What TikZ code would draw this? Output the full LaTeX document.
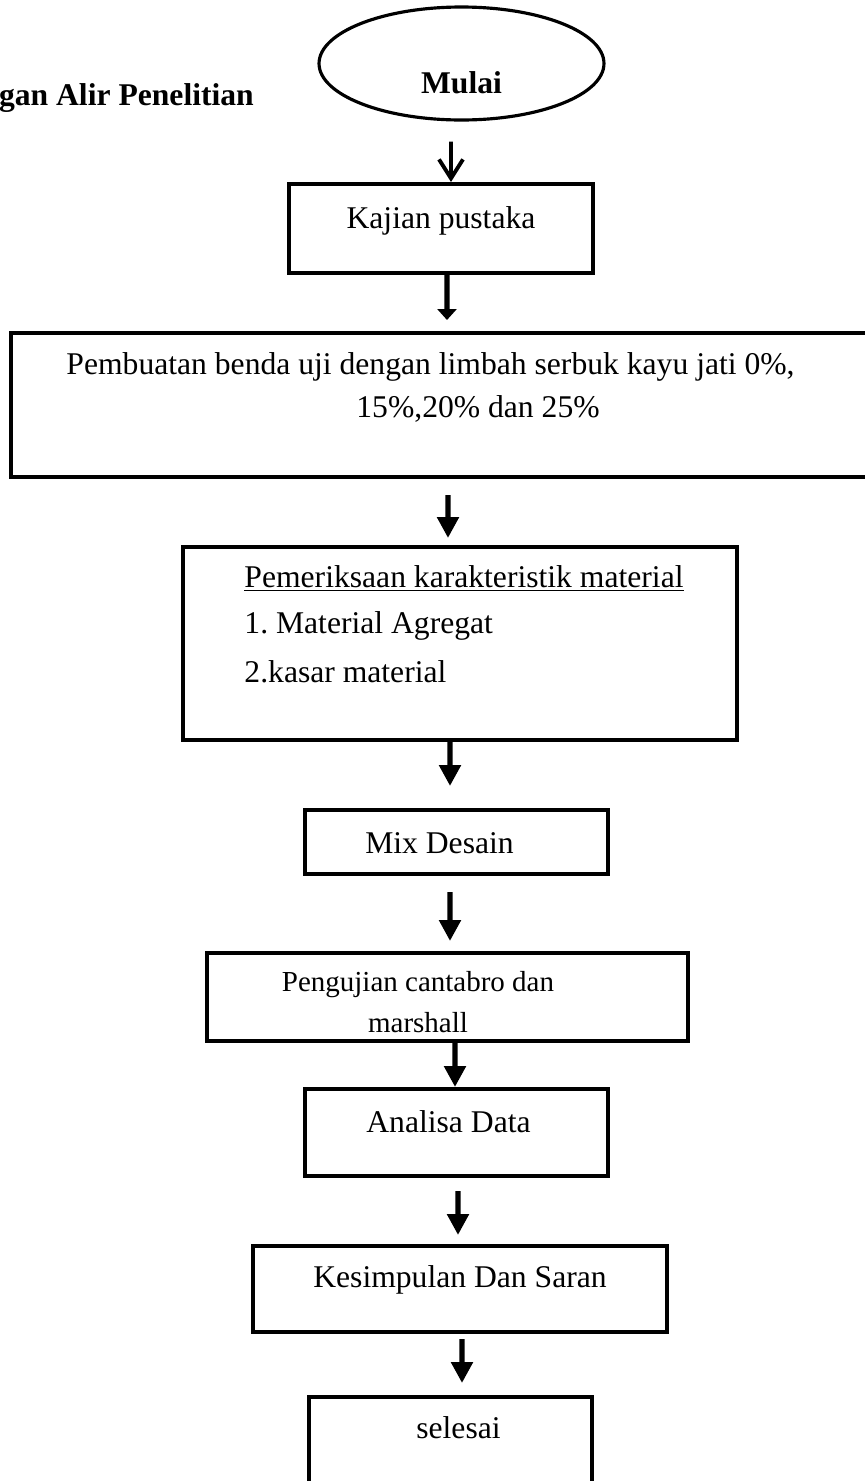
\documentclass[tikz,border=0pt]{standalone}
\usepackage{fontspec}
\setmainfont{Liberation Serif}
\usetikzlibrary{shapes.geometric, arrows.meta}
\tikzstyle{startstop} = [ellipse, 
minimum width=5.7cm, 
minimum height=2.26cm, 
text centered, 
draw=black, 
line width=1.8pt,
font=\fontsize{18}{22}\selectfont\bfseries]
\tikzstyle{process} = [rectangle, 
text height=0.44cm, 
draw=black, 
line width=2.3pt,
font=\fontsize{18}{22}\selectfont]
\tikzstyle{arrow} = [line width=3pt,-{Triangle[length=0.42cm,width=0.42cm]}]
\tikzstyle{shortarrow} = [line width=3pt,-{Triangle[length=0.22cm,width=0.38cm]}]
\tikzstyle{openarrow} = [line width=2.2pt,-{Straight Barb[length=0.38cm,width=0.48cm]}]

\begin{document}
\begin{tikzpicture}[x=0.02cm, y=-0.02cm]
        \useasboundingbox (0,0) rectangle (865,1481);
        \node (title) [anchor=base east, font=\fontsize{18}{22}\selectfont\bfseries] at (260,105) {Bagan Alir Penelitian};
        \node (start) [startstop, text height=1.2cm, text depth=0cm] at (461.5,63.5) {Mulai};
        \node (kajian) [process, minimum width=6.08cm, minimum height=1.78cm, text depth=0.46cm] at (441,228.5) {Kajian pustaka};
        \node (buat) [process, minimum width=17.38cm, minimum height=2.88cm, text height=0.48cm, text depth=0cm, align=left, font=\fontsize{18}{24}\selectfont] at (445.5,405) {Pembuatan benda uji dengan limbah serbuk kayu jati 0\%,\hspace*{0.6cm}\\ \hspace*{5.8cm}15\%,20\% dan 25\%};
        \node (periksa) [process, minimum width=11.08cm, minimum height=3.86cm, text height=1.54cm, text depth=0cm, align=left, font=\fontsize{18}{26}\selectfont] at (460,643.5) {\hspace*{0.16cm}\underline{Pemeriksaan karakteristik material}\\ \hspace*{0.16cm}1.\ Material Agregat\\[1.7pt] \hspace*{0.16cm}2.kasar material};
        \node (mix) [process, minimum width=6.06cm, minimum height=1.28cm, text depth=0cm] at (456.5,842) {Mix Desain\hspace*{0.68cm}};
        \node (uji) [process, minimum width=9.62cm, minimum height=1.76cm, text height=1.4cm, text depth=0cm, align=center, font=\fontsize{16.5}{23}\selectfont] at (447.5,997) {Pengujian cantabro dan\hspace*{1.18cm}\\ marshall\hspace*{1.18cm}};
        \node (analisa) [process, minimum width=6.06cm, minimum height=1.74cm, text depth=0.46cm] at (456.5,1132.5) {Analisa Data\hspace*{0.32cm}};
        \node (simpul) [process, minimum width=8.28cm, minimum height=1.72cm, text depth=0.52cm] at (460,1289) {Kesimpulan Dan Saran};
        \node (selesai) [process, minimum width=5.66cm, minimum height=1.86cm, text depth=0.66cm] at (450.5,1443.5) {\hspace*{0.32cm}selesai};
        \draw [openarrow, shorten <=0.4cm] ([xshift=-0.21cm]start.south) -- ([xshift=0.2cm]kajian.north);
        \draw [shortarrow, shorten >=0.22cm] ([xshift=0.12cm]kajian.south) -- ([xshift=0.03cm]buat.north);
        \draw [arrow, shorten <=0.32cm, shorten >=0.14cm] ([xshift=0.05cm]buat.south) -- ([xshift=-0.24cm]periksa.north);
        \draw [arrow, shorten >=0.44cm] ([xshift=-0.2cm]periksa.south) -- ([xshift=-0.13cm]mix.north);
        \draw [arrow, shorten <=0.32cm, shorten >=0.2cm] ([xshift=-0.13cm]mix.south) -- ([xshift=0.05cm]uji.north);
        \draw [arrow] ([xshift=0.15cm]uji.south) -- ([xshift=-0.03cm]analisa.north);
        \draw [arrow, shorten <=0.26cm, shorten >=0.18cm] ([xshift=0.03cm]analisa.south) -- ([xshift=-0.04cm]simpul.north);
        \draw [arrow, shorten <=0.1cm, shorten >=0.24cm] ([xshift=0.04cm]simpul.south) -- ([xshift=0.23cm]selesai.north);
    \end{tikzpicture}
\end{document}
